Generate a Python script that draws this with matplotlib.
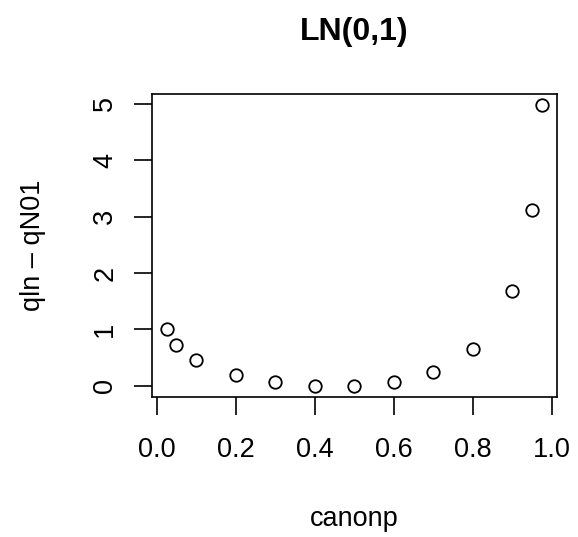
import matplotlib
matplotlib.use("Agg")
import matplotlib.pyplot as plt

plt.rcParams['font.family'] = ['Liberation Sans', 'DejaVu Sans']

canonp = [0.025, 0.05, 0.1, 0.2, 0.3, 0.4, 0.5, 0.6, 0.7, 0.8, 0.9, 0.95, 0.975]
diff = [1.00, 0.72, 0.46, 0.19, 0.06, 0.00, 0.00, 0.07, 0.25, 0.65, 1.68, 3.12, 4.98]

W, H = 578, 537
fig = plt.figure(figsize=(W / 100, H / 100), dpi=100)
ax = fig.add_axes([151.7 / W, 1 - 396.7 / H, (557 - 151.7) / W, (396.7 - 94.3) / H])

ax.plot(canonp, diff, 'o', markerfacecolor='none', markeredgecolor='black',
        markersize=9, markeredgewidth=1.3)

ax.set_xlim(-0.0126, 1.0126)
ax.set_ylim(-0.195, 5.17)
ax.set_xticks([0.0, 0.2, 0.4, 0.6, 0.8, 1.0])
ax.set_xticklabels(['0.0', '0.2', '0.4', '0.6', '0.8', '1.0'])
ax.set_yticks([0, 1, 2, 3, 4, 5])
ax.set_yticklabels(['0', '1', '2', '3', '4', '5'], rotation=90, va='center')

for s in ax.spines.values():
    s.set_linewidth(1.2)
ax.tick_params(axis='both', length=13, width=1.2, labelsize=19.5)
ax.tick_params(axis='x', pad=16)
ax.tick_params(axis='y', pad=11)

# axis titles, placed in pixel terms of the figure
fig.text(354 / W, 1 - 526 / H, 'canonp', fontsize=19.5, ha='center', va='baseline')
fig.text(33 / W, 1 - 245.5 / H, 'qln \u2013 qN01', fontsize=19.5, rotation=90,
         ha='center', va='center')
fig.text(354 / W, 1 - 40 / H, 'LN(0,1)', fontsize=23, fontweight='bold',
         ha='center', va='baseline')

fig.savefig('out.png', dpi=100)
